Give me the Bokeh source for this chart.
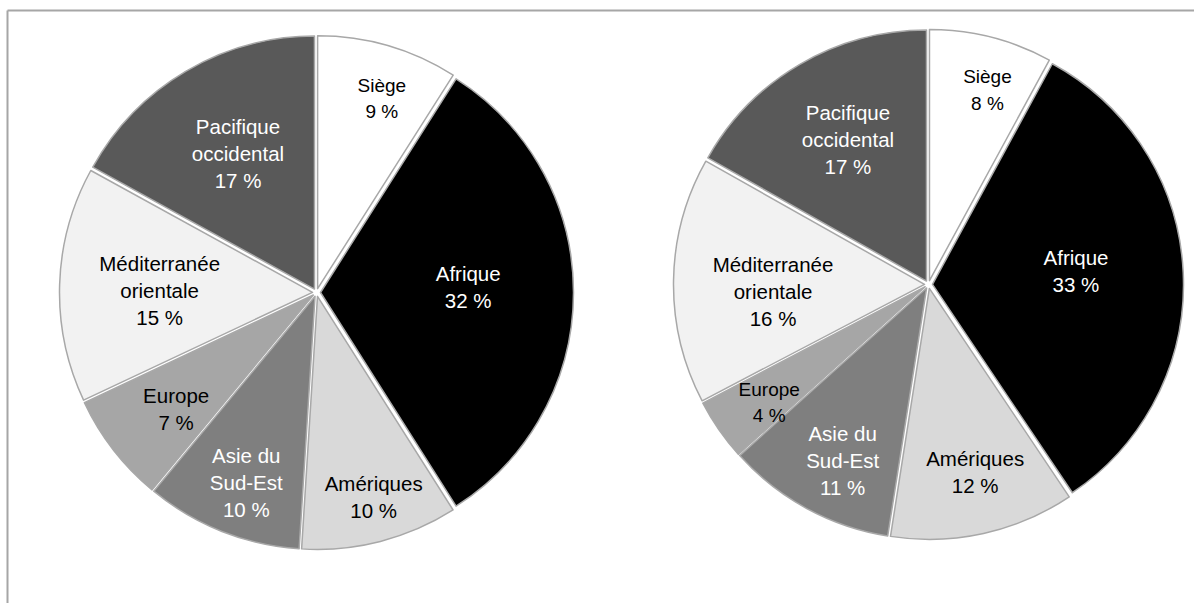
import math
import numpy as np
from bokeh.plotting import figure
from bokeh.models import ColumnDataSource, Range1d
from bokeh.embed import file_html
from bokeh.resources import INLINE
from bokeh.core.properties import value

# ---------------- data ----------------
categories = ["Siège", "Afrique", "Amériques", "Asie du Sud-Est", "Europe",
              "Méditerranée orientale", "Pacifique occidental"]
label_names = ["Siège", "Afrique", "Amériques", "Asie du\nSud-Est", "Europe",
               "Méditerranée\norientale", "Pacifique\noccidental"]
values_left = [9, 32, 10, 10, 7, 15, 17]
values_right = [8, 33, 12, 11, 4, 16, 17]

# ---------------- styles ----------------
slice_colors = ["#ffffff", "#000000", "#d9d9d9", "#7f7f7f", "#a6a6a6", "#f2f2f2", "#595959"]
label_colors = ["#000000", "#ffffff", "#000000", "#ffffff", "#000000", "#000000", "#ffffff"]
FONT = "Liberation Sans"
NORMAL = dict(size="20.5px", line_height=1.17)
NARROW = dict(size="19px", line_height=1.26)

W, H = 1194, 603

p = figure(width=W, height=H, x_range=Range1d(0, W), y_range=Range1d(0, H),
           output_backend="svg", toolbar_location=None, min_border=0,
           x_axis_type=None, y_axis_type=None)
p.grid.visible = False
p.outline_line_color = None
p.background_fill_color = "white"
p.border_fill_color = "white"

# frame (only top and left edges visible in the reference crop)
p.segment(x0=[7, 7], y0=[H - 10, H - 10], x1=[W, 7], y1=[H - 10, 0],
          line_color="#a6a6a6", line_width=2)


def draw_pie(cx, cy_img, R, explode, vals, r_frac, ang_tweak, narrow):
    vals = np.array(vals, dtype=float)
    fr = vals / vals.sum()
    cum_end = np.cumsum(fr)
    cum_start = cum_end - fr
    th0 = 2 * math.pi * cum_start      # clockwise from 12 o'clock
    th1 = 2 * math.pi * cum_end
    mid = (th0 + th1) / 2
    cy = H - cy_img
    src = ColumnDataSource(dict(
        x=cx + explode * np.sin(mid),
        y=cy + explode * np.cos(mid),
        start=math.pi / 2 - th0,
        end=math.pi / 2 - th1,
        color=slice_colors,
        name=categories,
    ))
    p.wedge(x="x", y="y", radius=R, start_angle="start", end_angle="end",
            direction="clock", fill_color="color", line_color="#a8a8a8",
            line_width=1.5, line_join="round", source=src)

    la = mid + np.radians(np.array(ang_tweak, dtype=float))
    rf = np.array(r_frac, dtype=float)
    lx = cx + rf * R * np.sin(la)
    ly = cy + rf * R * np.cos(la)
    texts = [f"{n}\n{int(v)} %" for n, v in zip(label_names, vals)]
    for flag, style in ((False, NORMAL), (True, NARROW)):
        idx = [i for i, n in enumerate(narrow) if n == flag]
        if not idx:
            continue
        lsrc = ColumnDataSource(dict(
            x=lx[idx], y=ly[idx],
            text=[texts[i] for i in idx],
            color=[label_colors[i] for i in idx],
        ))
        p.text(x="x", y="y", text="text", text_color="color", text_font=value(FONT),
               text_font_size=style["size"], text_align="center",
               text_baseline="middle", text_line_height=style["line_height"],
               source=lsrc)


draw_pie(316, 292, 253, 4, values_left,
         r_frac=[0.81, 0.60, 0.84, 0.80, 0.72, 0.62, 0.63],
         ang_tweak=[2.4, -2.2, -1.2, -1.3, -1.8, -1.1, 1.1],
         narrow=[True, False, False, False, False, False, False])

draw_pie(928, 284, 251, 4, values_right,
         r_frac=[0.81, 0.59, 0.77, 0.78, 0.79, 0.62, 0.66],
         ang_tweak=[2.6, -2.5, -1.5, -2.5, -1.8, -3.4, 1.2],
         narrow=[True, False, False, False, True, False, False])

open("out.html", "w").write(file_html(p, INLINE))
